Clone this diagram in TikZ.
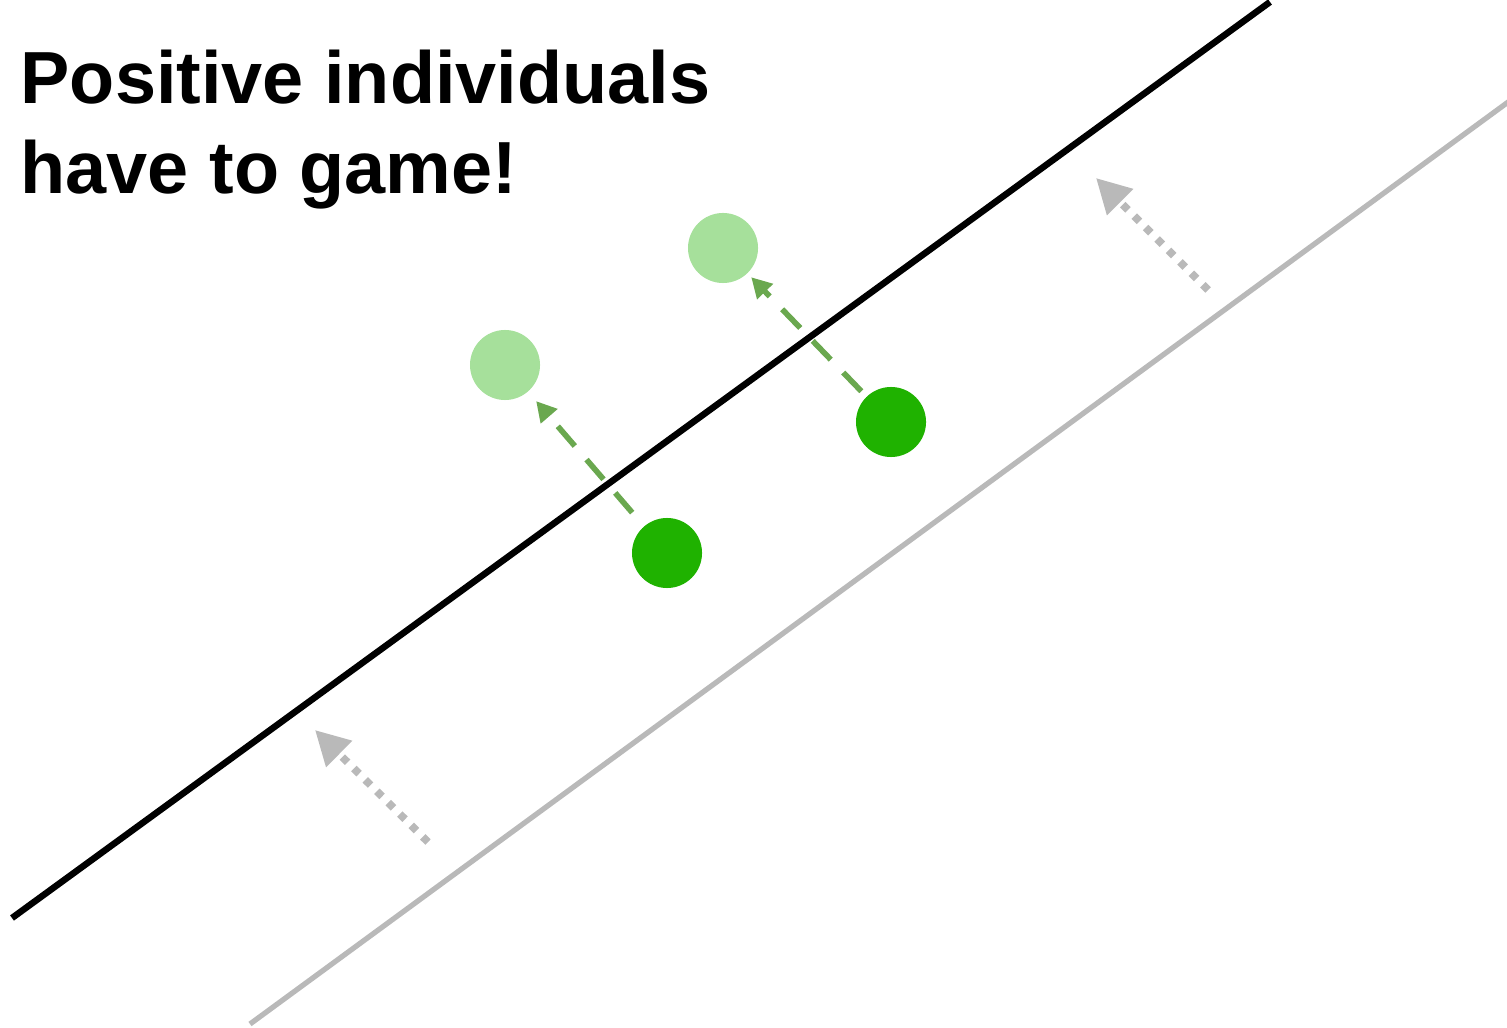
\documentclass[tikz,border=0pt]{standalone}
\usepackage{fontspec}
\setmainfont{Liberation Sans}
\usepackage{xcolor}
\definecolor{mygreen}{RGB}{31,178,0}
\definecolor{mylight}{RGB}{166,224,155}
\definecolor{mydash}{RGB}{106,168,79}
\definecolor{mygray}{RGB}{185,185,185}
\usepackage{tikz}
\usetikzlibrary{positioning,arrows.meta}

\begin{document}
\begin{tikzpicture}[x=0.01cm,y=-0.01cm,
    dot/.style={circle,fill=mygreen,inner sep=0pt,minimum size=0.7cm},
    ghost/.style={circle,fill=mylight,inner sep=0pt,minimum size=0.7cm},
    gamearrow/.style={-{Triangle[length=5.7pt,width=6pt]},mydash,line width=1.6pt,
          dash pattern=on 7.4pt off 5.1pt},
    shiftarrow/.style={-{Triangle[length=9.7pt,width=10pt]},mygray,line width=2.2pt,
          dash pattern=on 2.1pt off 2.5pt}]
    \useasboundingbox (0,0) rectangle (1507,1028);
    % decision boundaries
    \coordinate (oldA) at (250,1024);
    \coordinate (oldB) at (1530,86);
    \coordinate (newA) at (12,918);
    \coordinate (newB) at (1270,2);
    \draw[mygray,line width=1.5pt](oldA)--(oldB);
    \draw[black,line width=1.85pt](newA)--(newB);
    % individuals before and after gaming
    \node[dot](p1) at (667,553){};
    \node[dot](p2) at (891,422){};
    \node[ghost](q1) at (505,365){};
    \node[ghost](q2) at (723,248){};
    \draw[gamearrow,shorten <=5pt,shorten >=3.4pt](p1)--(q1);
    \draw[gamearrow,shorten <=2pt,shorten >=1.4pt](p2)--(q2);
    % boundary shift
    \coordinate (s1) at (428,842);
    \coordinate (t1) at (315,730);
    \coordinate (s2) at (1208,290);
    \coordinate (t2) at (1096,178);
    \draw[shiftarrow](s1)--(t1);
    \draw[shiftarrow](s2)--(t2);
    \node[anchor=north west,inner sep=0pt,align=left,
          font=\bfseries\fontsize{21pt}{25.6pt}\selectfont](title) at (20,49)
          {Positive individuals\\have to game!};
  \end{tikzpicture}
\end{document}
